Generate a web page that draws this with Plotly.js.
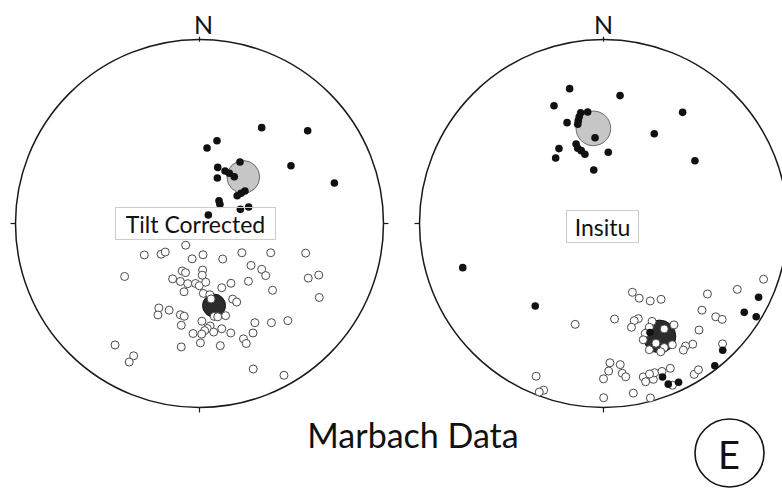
<!DOCTYPE html>
<html>
<head>
<meta charset="utf-8">
<script src="https://cdn.plot.ly/plotly-3.0.1.min.js"></script>
<style>html,body{margin:0;padding:0;background:#fff;}#chart{width:782px;height:488px;}</style>
</head>
<body>
<div id="chart"></div>
<script>
// Equal-area projection plane coordinates (unit = primitive circle radius), East = +x, North = +y

// ---- Tilt corrected ----
const tiltDownX = [0.338,0.588,0.095,0.041,0.220,0.497,0.099,0.139,0.162,0.189,0.097,0.733,0.247,0.226,0.205,0.106,0.111,0.267,0.222,0.048];
const tiltDownY = [0.521,0.504,0.450,0.410,0.334,0.314,0.305,0.285,0.273,0.254,0.247,0.220,0.177,0.164,0.151,0.124,0.104,0.090,0.077,0.046];

const tiltUpX = [-0.300,-0.209,-0.186,-0.075,-0.040,0.019,0.126,0.230,0.387,0.577,-0.407,-0.094,-0.076,0.017,0.015,-0.146,-0.104,-0.064,-0.022,-0.001,
  0.034,-0.084,0.021,0.056,0.063,0.121,0.171,0.280,0.338,0.360,0.266,0.397,0.591,0.648,0.651,0.180,0.202,-0.221,-0.226,-0.165,
  -0.104,-0.083,-0.099,0.013,0.080,0.099,0.142,0.058,0.043,0.028,0.077,0.121,0.012,-0.035,0.170,0.301,0.391,0.480,0.291,0.239,
  0.254,0.005,-0.099,0.113,-0.459,-0.358,-0.382,0.292,0.459];
const tiltUpY = [-0.171,-0.167,-0.155,-0.118,-0.192,-0.170,-0.193,-0.159,-0.159,-0.161,-0.288,-0.258,-0.267,-0.253,-0.281,-0.301,-0.315,-0.327,-0.326,-0.338,
  -0.319,-0.371,-0.380,-0.387,-0.410,-0.349,-0.325,-0.228,-0.249,-0.283,-0.314,-0.363,-0.297,-0.280,-0.402,-0.411,-0.427,-0.459,-0.497,-0.471,
  -0.496,-0.504,-0.553,-0.531,-0.505,-0.507,-0.501,-0.557,-0.571,-0.582,-0.590,-0.572,-0.601,-0.598,-0.595,-0.539,-0.539,-0.528,-0.595,-0.627,
  -0.652,-0.649,-0.671,-0.664,-0.660,-0.719,-0.753,-0.791,-0.825];

const tiltMeanX = [0.238, 0.079];
const tiltMeanY = [0.253, -0.446];
const tiltA95 = [0.089, 0.0625];

// ---- In situ ----
const situDownX = [-0.184,0.090,-0.269,0.430,-0.086,-0.124,-0.132,-0.137,-0.140,-0.198,-0.046,0.276,-0.149,-0.140,-0.121,-0.101,-0.242,-0.260,0.026,0.497,-0.053,
  -0.765,-0.371,0.843,0.765,0.830,0.648,0.605,0.321,0.352,0.408,0.253];
const situDownY = [0.733,0.695,0.640,0.604,0.606,0.602,0.580,0.559,0.539,0.548,0.466,0.488,0.432,0.409,0.396,0.376,0.407,0.356,0.387,0.341,0.291,
  -0.240,-0.448,-0.401,-0.483,-0.507,-0.689,-0.773,-0.834,-0.873,-0.863,-0.593];

const situUpX = [-0.154,0.060,0.157,0.194,0.254,0.313,0.189,0.167,0.152,-0.366,-0.325,-0.349,0.035,0.091,0.028,0.102,0.121,0.000,0.001,0.162,0.255,
  0.216,0.229,0.271,0.278,0.318,0.250,0.363,0.375,0.493,0.516,0.565,0.727,0.870,0.535,0.610,0.645,0.519,0.647,0.485,0.446,0.434,
  0.264,0.330,0.383,0.249,0.227,0.216,0.249,0.285,0.330,0.311,0.374];
const situUpY = [-0.548,-0.519,-0.374,-0.406,-0.421,-0.412,-0.517,-0.528,-0.564,-0.830,-0.906,-0.916,-0.757,-0.767,-0.802,-0.814,-0.833,-0.844,-0.947,-0.922,-0.948,
  -0.834,-0.860,-0.847,-0.811,-0.804,-0.818,-0.787,-0.879,-0.820,-0.795,-0.383,-0.358,-0.303,-0.471,-0.507,-0.521,-0.579,-0.654,-0.656,-0.666,-0.688,
  -0.532,-0.573,-0.551,-0.564,-0.597,-0.632,-0.686,-0.651,-0.674,-0.697,-0.659];

const situMeanX = [-0.055, 0.304];
const situMeanY = [0.517, -0.614];
const situA95 = [0.094, 0.089];

const panelNames = ['Tilt Corrected', 'Insitu'];

// ---- drawing ----
const FONT = 'Lato, "Open Sans", sans-serif';
const meanFill = ['#c6c6c6', '#2c2c2c'];
const meanLine = ['#6a6a6a', '#151515'];

function openTrace(x, y, xa, ya) {
  return {type:'scatter', mode:'markers', x:x, y:y, xaxis:xa, yaxis:ya, hoverinfo:'skip', showlegend:false,
    marker:{symbol:'circle', size:8, color:'#ffffff', line:{color:'#4a4a4a', width:1}}};
}
function fullTrace(x, y, xa, ya) {
  return {type:'scatter', mode:'markers', x:x, y:y, xaxis:xa, yaxis:ya, hoverinfo:'skip', showlegend:false,
    marker:{symbol:'circle', size:7.6, color:'#111111', line:{width:0}}};
}
function circle(xr, yr, cx, cy, r, fill, line, lw) {
  return {type:'circle', xref:xr, yref:yr, x0:cx-r, x1:cx+r, y0:cy-r, y1:cy+r,
    fillcolor:fill, line:{color:line, width:lw}, layer:'below'};
}
function seg(xr, yr, x0, y0, x1, y1) {
  return {type:'line', xref:xr, yref:yr, x0:x0, y0:y0, x1:x1, y1:y1, line:{color:'#1a1a1a', width:1.2}, layer:'below'};
}

const data = [
  openTrace(tiltUpX, tiltUpY, 'x', 'y'),
  fullTrace(tiltDownX, tiltDownY, 'x', 'y'),
  openTrace(situUpX, situUpY, 'x2', 'y2'),
  fullTrace(situDownX, situDownY, 'x2', 'y2')
];

const shapes = [];
const panels = [['x','y', tiltMeanX, tiltMeanY, tiltA95], ['x2','y2', situMeanX, situMeanY, situA95]];
panels.forEach(p => {
  const [xr, yr, mx, my, a95] = p;
  shapes.push(circle(xr, yr, 0, 0, 1, 'rgba(0,0,0,0)', '#1a1a1a', 1.5));
  const t = 0.027;
  shapes.push(seg(xr, yr, 0, 1 - 0.012, 0, 1 + 0.015));
  shapes.push(seg(xr, yr, 1, 0, 1 + t, 0));
  shapes.push(seg(xr, yr, -1, 0, -1 - t, 0));
  shapes.push(seg(xr, yr, 0, -1, 0, -1 - t));
  for (let i = 0; i < mx.length; i++) {
    shapes.push(circle(xr, yr, mx[i], my[i], a95[i], meanFill[i], meanLine[i], 1));
  }
});
// panel badge
shapes.push({type:'circle', xref:'paper', yref:'paper', x0:695/782, x1:764/782, y0:1/488, y1:69/488,
  line:{color:'#111', width:1.6}, fillcolor:'rgba(0,0,0,0)'});

const annotations = [
  {xref:'x', yref:'y', x:0.02, y:1.085, text:'N', showarrow:false, font:{family:FONT, size:25, color:'#111'}, xanchor:'center', yanchor:'middle'},
  {xref:'x2', yref:'y2', x:0.0, y:1.085, text:'N', showarrow:false, font:{family:FONT, size:25, color:'#111'}, xanchor:'center', yanchor:'middle'},
  {xref:'x', yref:'y', x:-0.024, y:0.0, text:panelNames[0], showarrow:false, width:159, height:31, borderpad:0, align:'center',
    xanchor:'center', yanchor:'middle',
    bordercolor:'#cccccc', borderwidth:1, bgcolor:'rgba(255,255,255,0)', font:{family:FONT, size:23, color:'#111'}},
  {xref:'x2', yref:'y2', x:-0.003, y:-0.017, text:panelNames[1], showarrow:false, width:71, height:31, borderpad:0, align:'center',
    xanchor:'center', yanchor:'middle',
    bordercolor:'#cccccc', borderwidth:1, bgcolor:'rgba(255,255,255,0)', font:{family:FONT, size:23, color:'#111'}},
  {xref:'paper', yref:'paper', x:729/782, y:(488-454)/488, text:'E', showarrow:false, xanchor:'center', yanchor:'middle',
    font:{family:FONT, size:38, color:'#111'}}
];

const ax = {visible:false, showgrid:false, zeroline:false, fixedrange:true};
const layout = {
  width:782, height:488,
  margin:{l:0, r:0, t:0, b:0},
  paper_bgcolor:'#ffffff', plot_bgcolor:'rgba(0,0,0,0)',
  title:{text:'Marbach Data', x:413/782, xanchor:'center', y:(488-436)/488, yanchor:'middle', font:{family:FONT, size:34, color:'#111'}},
  xaxis:Object.assign({domain:[0,0.5], range:[-199.5/184, (391-199.5)/184]}, ax),
  yaxis:Object.assign({domain:[0,1], range:[-(488-223.5)/184, 223.5/184]}, ax),
  xaxis2:Object.assign({domain:[0.5,1], range:[-(603.5-391)/184, (782-603.5)/184], anchor:'y2'}, ax),
  yaxis2:Object.assign({domain:[0,1], range:[-(488-223.5)/184, 223.5/184], anchor:'x2'}, ax),
  shapes:shapes,
  annotations:annotations,
  showlegend:false
};

Plotly.newPlot('chart', data, layout, {staticPlot:true, displayModeBar:false});
</script>
</body>
</html>
